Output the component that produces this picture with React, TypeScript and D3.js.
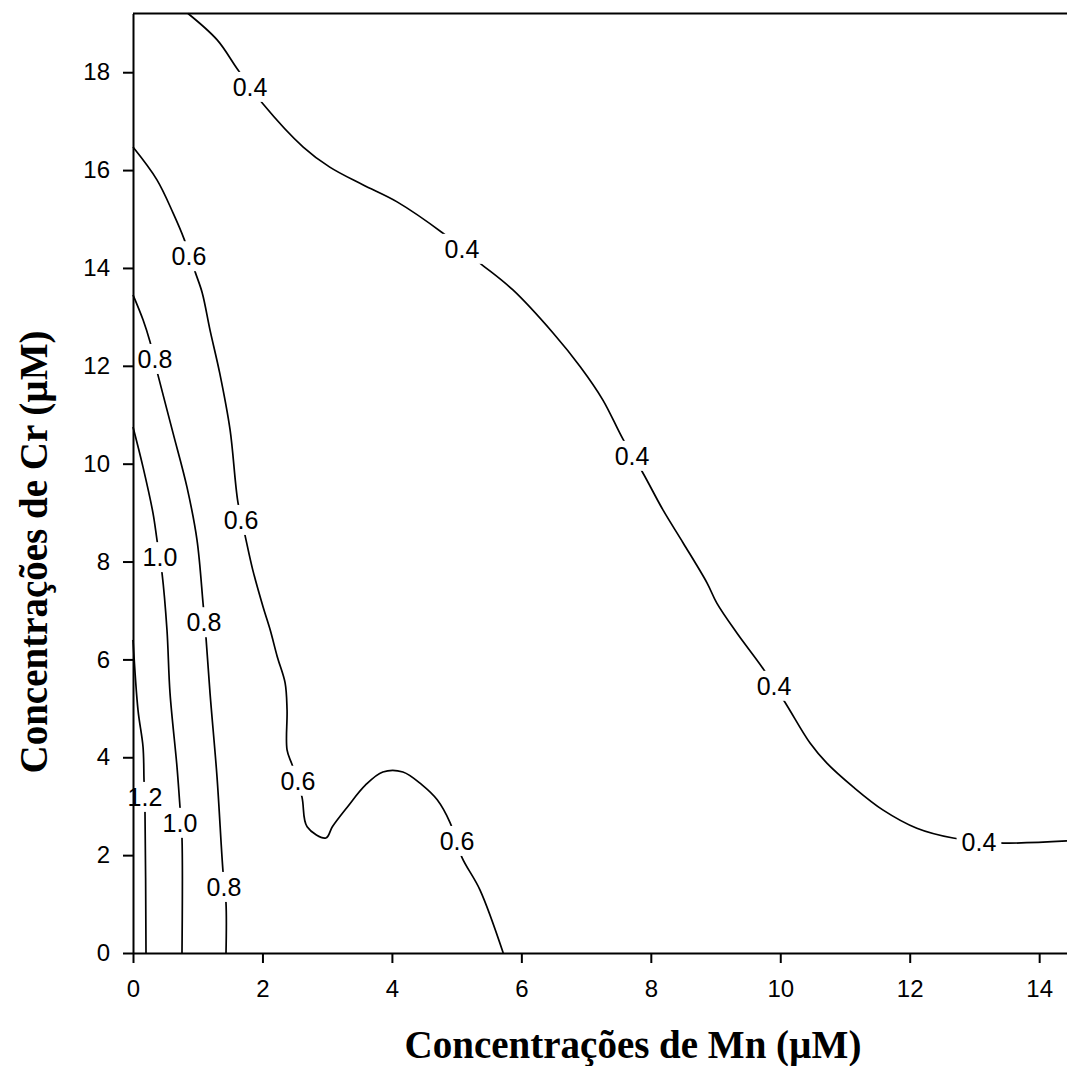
import React, { useEffect, useRef } from "react";
import * as d3 from "d3";

const W = 1067;
const H = 1066;
const xDomain = [0, 14.43];
const yDomain = [0, 19.2];
const xTicks = [0, 2, 4, 6, 8, 10, 12, 14];
const yTicks = [0, 2, 4, 6, 8, 10, 12, 14, 16, 18];
const xTitle = "Concentrações de Mn (µM)";
const yTitle = "Concentrações de Cr (µM)";

// contour lines: [Mn, Cr]
const level04: [number, number][] = [
  [0.85, 19.2], [1.3, 18.66], [1.62, 18.05], [2.01, 17.35], [2.63, 16.47], [3.04, 16.06],
  [3.55, 15.7], [4.08, 15.35], [4.79, 14.71], [5.36, 14.1], [5.87, 13.55], [6.49, 12.67],
  [6.91, 11.98], [7.26, 11.3], [7.57, 10.5], [7.87, 9.83], [8.19, 9.05], [8.5, 8.38],
  [8.87, 7.56], [9.02, 7.15], [9.33, 6.54], [9.73, 5.82], [10.07, 5.13], [10.46, 4.29],
  [10.72, 3.88], [11.13, 3.39], [11.59, 2.92], [12.11, 2.55], [12.67, 2.35], [13.37, 2.25],
  [14.43, 2.29],
];
const level06: [number, number][] = [
  [0, 16.47], [0.37, 15.8], [0.62, 15.12], [0.79, 14.59], [0.96, 13.92], [1.07, 13.49],
  [1.19, 12.73], [1.34, 11.85], [1.5, 10.69], [1.62, 9.22], [1.73, 8.54], [1.85, 7.83],
  [2.01, 7.07], [2.12, 6.6], [2.23, 6.05], [2.35, 5.52], [2.38, 4.97], [2.38, 4.15],
  [2.46, 3.84], [2.61, 3.19], [2.69, 2.58], [2.98, 2.35], [3.08, 2.58], [3.31, 2.98],
  [3.59, 3.43], [3.86, 3.7], [4.17, 3.7], [4.47, 3.43], [4.7, 3.13], [4.9, 2.66],
  [5.08, 1.96], [5.36, 1.29], [5.72, 0],
];
const level08: [number, number][] = [
  [0, 13.45], [0.155, 12.94], [0.263, 12.49], [0.386, 11.81], [0.618, 10.63], [0.834, 9.52],
  [0.989, 8.44], [1.082, 7.15], [1.128, 6.44], [1.19, 5.31], [1.298, 3.6], [1.391, 1.66],
  [1.437, 1.02], [1.437, 0],
];
const level10: [number, number][] = [
  [0, 10.75], [0.155, 9.93], [0.309, 8.99], [0.371, 8.44], [0.448, 7.77], [0.525, 6.6],
  [0.572, 5.31], [0.68, 3.8], [0.726, 2.98], [0.757, 2.35], [0.757, 0],
];
const level12: [number, number][] = [
  [0, 6.4], [0.077, 4.97], [0.155, 4.21], [0.17, 3.54], [0.185, 2.92], [0.201, 0],
];

// contour labels: [Mn, Cr]
const labels04: [number, number][] = [[1.808, 17.7], [5.083, 14.39], [7.71, 10.16], [9.904, 5.46], [13.07, 2.27]];
const labels06: [number, number][] = [[0.865, 14.24], [1.669, 8.85], [2.549, 3.52], [5.006, 2.29]];
const labels08: [number, number][] = [[0.34, 12.14], [1.097, 6.76], [1.406, 1.35]];
const labels10: [number, number][] = [[0.417, 8.09], [0.726, 2.66]];
const labels12: [number, number][] = [[0.185, 3.19]];

const contours = [
  { level: "0.4", points: level04, labels: labels04 },
  { level: "0.6", points: level06, labels: labels06 },
  { level: "0.8", points: level08, labels: labels08 },
  { level: "1.0", points: level10, labels: labels10 },
  { level: "1.2", points: level12, labels: labels12 },
];

const SANS = "'Liberation Sans', Arial, sans-serif";
const SERIF = "'Liberation Serif', 'Times New Roman', serif";

export default function App() {
  const ref = useRef<SVGSVGElement>(null);
  useEffect(() => {
    const svg = d3.select(ref.current);
    svg.selectAll("*").remove();
    const x = d3.scaleLinear().domain(xDomain).range([133, 1067]);
    const y = d3.scaleLinear().domain(yDomain).range([953, 13.5]);
    const line = d3
      .line<[number, number]>()
      .x((d) => x(d[0]))
      .y((d) => y(d[1]))
      .curve(d3.curveCatmullRom.alpha(0.5));

    const gLines = svg.append("g");
    contours.forEach((c) => {
      gLines
        .append("path")
        .attr("d", line(c.points) as string)
        .attr("fill", "none")
        .attr("stroke", "#000")
        .attr("stroke-width", 1.7);
    });

    const gBg = svg.append("g");
    const gAxes = svg.append("g");
    const gText = svg.append("g");

    contours.forEach((c) => {
      c.labels.forEach((p) => {
        const t = gText
          .append("text")
          .attr("x", x(p[0]))
          .attr("y", y(p[1]))
          .attr("dy", "0.36em")
          .attr("text-anchor", "middle")
          .attr("font-family", SANS)
          .attr("font-size", 25)
          .attr("fill", "#000")
          .text(c.level);
        const w = (t.node() as SVGTextElement).getComputedTextLength();
        gBg
          .append("rect")
          .attr("x", x(p[0]) - w / 2 - 5)
          .attr("y", y(p[1]) - 15)
          .attr("width", w + 10)
          .attr("height", 30)
          .attr("fill", "#fff");
      });
    });

    const xAxis = gAxes
      .append("g")
      .attr("transform", "translate(0,953)")
      .call(d3.axisBottom(x).tickValues(xTicks).tickSize(10).tickSizeOuter(0).tickPadding(17).tickFormat(d3.format("d")));
    const yAxis = gAxes
      .append("g")
      .attr("transform", "translate(133,0)")
      .call(d3.axisLeft(y).tickValues(yTicks).tickSize(10).tickSizeOuter(0).tickPadding(13).tickFormat(d3.format("d")));
    [xAxis, yAxis].forEach((a) => {
      a.attr("font-family", SANS).attr("font-size", 24);
      a.selectAll("path,line").attr("stroke", "#000").attr("stroke-width", 2);
      a.selectAll("text").attr("fill", "#000");
    });
    gAxes
      .append("line")
      .attr("x1", 133)
      .attr("x2", 1067)
      .attr("y1", 13.5)
      .attr("y2", 13.5)
      .attr("stroke", "#000")
      .attr("stroke-width", 2);

    svg
      .append("text")
      .attr("x", 633)
      .attr("y", 1058)
      .attr("text-anchor", "middle")
      .attr("font-family", SERIF)
      .attr("font-weight", "bold")
      .attr("font-size", 39)
      .attr("fill", "#000")
      .text(xTitle);
    svg
      .append("text")
      .attr("transform", "translate(47,552) rotate(-90)")
      .attr("text-anchor", "middle")
      .attr("font-family", SERIF)
      .attr("font-weight", "bold")
      .attr("font-size", 39)
      .attr("fill", "#000")
      .text(yTitle);
  }, []);
  return (
    <svg
      ref={ref}
      width={W}
      height={H}
      style={{ position: "absolute", left: 0, top: 0, background: "#fff" }}
    />
  );
}
